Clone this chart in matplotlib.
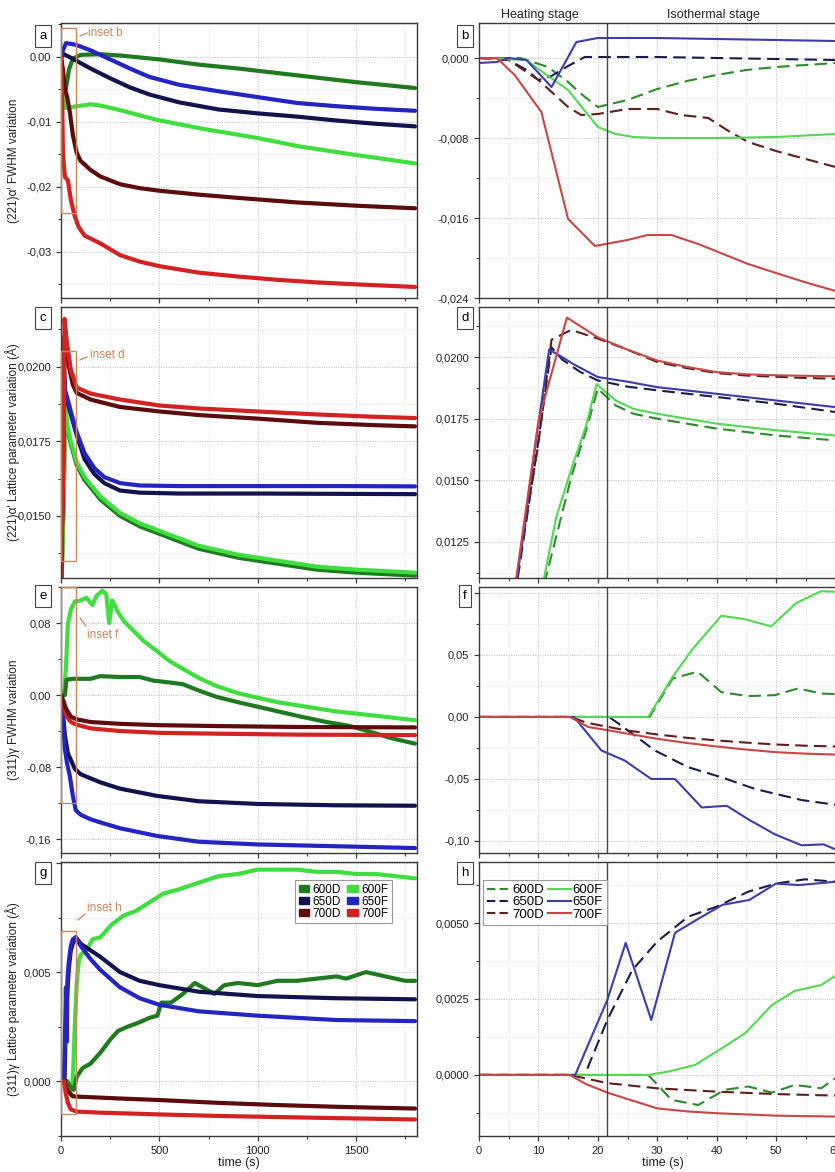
import matplotlib
matplotlib.use("Agg")
import matplotlib.pyplot as plt
from matplotlib.ticker import MultipleLocator, FuncFormatter
from matplotlib.patches import Rectangle, Patch
from matplotlib.lines import Line2D

plt.rcParams['font.family'] = ['Liberation Sans', 'DejaVu Sans']

# ---------------- data: left column (full 1800 s runs) ----------------
# panel a : (221)alpha' FWHM variation
A_T_600D = [0, 10, 25, 40, 60, 100, 200, 300, 500, 700, 900, 1100, 1300, 1500, 1800]
A_V_600D = [0.0, -0.004, -0.005, -0.002, -0.0003, 0.0003, 0.0004, 0.0002, -0.0004, -0.0012, -0.0018, -0.0025, -0.0032, -0.0039, -0.0048]
A_T_600F = [0, 10, 20, 40, 80, 150, 200, 300, 400, 487, 707, 1000, 1216, 1500, 1800]
A_V_600F = [-0.003, -0.006, -0.0079, -0.0078, -0.0076, -0.0073, -0.0075, -0.0082, -0.0090, -0.0097, -0.0110, -0.0125, -0.0138, -0.0151, -0.0164]
A_T_650D = [0, 15, 60, 150, 250, 350, 450, 600, 800, 1000, 1200, 1400, 1600, 1800]
A_V_650D = [0.0, 0.0004, -0.0003, -0.0018, -0.0033, -0.0047, -0.0058, -0.0070, -0.0081, -0.0087, -0.0092, -0.0098, -0.0103, -0.0107]
A_T_650F = [0, 10, 25, 50, 80, 150, 250, 350, 450, 600, 800, 1000, 1200, 1400, 1600, 1800]
A_V_650F = [0.0, 0.001, 0.0021, 0.002, 0.0018, 0.0010, -0.0004, -0.0018, -0.0031, -0.0043, -0.0053, -0.0062, -0.0071, -0.0076, -0.0080, -0.0083]
A_T_700D = [0, 10, 20, 30, 45, 60, 80, 100, 150, 200, 300, 400, 500, 700, 900, 1200, 1500, 1800]
A_V_700D = [0.0, -0.002, -0.005, -0.006, -0.0085, -0.012, -0.0148, -0.0160, -0.0174, -0.0184, -0.0196, -0.0202, -0.0206, -0.0212, -0.0217, -0.0224, -0.0229, -0.0233]
A_T_700F = [0, 5, 10, 20, 35, 50, 70, 90, 120, 200, 300, 400, 500, 700, 900, 1100, 1300, 1500, 1800]
A_V_700F = [0.0, -0.005, -0.015, -0.0185, -0.019, -0.022, -0.0245, -0.0262, -0.0275, -0.0287, -0.0305, -0.0315, -0.0322, -0.0332, -0.0338, -0.0343, -0.0347, -0.0350, -0.0354]

# panel c : (221)alpha' lattice parameter variation
C_T_600D = [0, 15, 20, 30, 50, 80, 120, 200, 300, 400, 500, 700, 900, 1100, 1300, 1500, 1800]
C_V_600D = [0.0120, 0.0159, 0.0187, 0.0180, 0.0174, 0.0167, 0.0162, 0.01555, 0.0150, 0.01465, 0.0144, 0.0139, 0.0136, 0.0134, 0.0132, 0.0131, 0.0130]
C_T_600F = [0, 15, 20, 30, 50, 80, 120, 200, 300, 400, 500, 700, 900, 1100, 1300, 1500, 1800]
C_V_600F = [0.0120, 0.0160, 0.0189, 0.0181, 0.0175, 0.0168, 0.0163, 0.01565, 0.0151, 0.01475, 0.0145, 0.0140, 0.0137, 0.0135, 0.0133, 0.0132, 0.0131]
C_T_650D = [0, 8, 12, 20, 30, 50, 80, 120, 170, 220, 300, 400, 600, 1000, 1400, 1800]
C_V_650D = [0.0128, 0.0160, 0.0204, 0.0192, 0.0189, 0.0184, 0.0177, 0.0169, 0.0164, 0.0161, 0.01585, 0.01578, 0.01575, 0.01575, 0.01574, 0.01573]
C_T_650F = [0, 8, 12, 20, 30, 50, 80, 120, 170, 220, 300, 400, 600, 1000, 1400, 1800]
C_V_650F = [0.0128, 0.0160, 0.0202, 0.0192, 0.0190, 0.0185, 0.0178, 0.0171, 0.0166, 0.0163, 0.01610, 0.01602, 0.01600, 0.01600, 0.01600, 0.01599]
C_T_700D = [0, 14, 17, 25, 40, 60, 80, 150, 300, 500, 700, 1000, 1300, 1600, 1800]
C_V_700D = [0.0128, 0.0175, 0.0210, 0.0209, 0.0200, 0.0194, 0.01912, 0.01890, 0.01865, 0.01850, 0.01838, 0.01826, 0.01812, 0.01804, 0.01800]
C_T_700F = [0, 14, 18, 30, 50, 80, 150, 300, 500, 700, 1000, 1300, 1600, 1800]
C_V_700F = [0.0128, 0.0175, 0.0216, 0.0208, 0.0199, 0.0193, 0.0191, 0.0189, 0.0187, 0.01860, 0.01850, 0.01840, 0.01832, 0.01828]

# panel e : (311)gamma FWHM variation
E_T_600D = [0, 20, 28, 60, 150, 200, 300, 400, 470, 550, 620, 700, 790, 900, 1000, 1100, 1220, 1350, 1460, 1560, 1680, 1800]
E_V_600D = [0.0, 0.0, 0.017, 0.018, 0.018, 0.021, 0.020, 0.020, 0.016, 0.014, 0.012, 0.005, -0.002, -0.008, -0.013, -0.018, -0.024, -0.030, -0.034, -0.040, -0.048, -0.054]
E_T_600F = [0, 15, 25, 35, 50, 70, 100, 130, 160, 180, 210, 230, 245, 260, 290, 320, 370, 420, 487, 550, 620, 700, 790, 900, 1000, 1100, 1220, 1390, 1600, 1800]
E_V_600F = [0.0, 0.0, 0.03, 0.079, 0.095, 0.104, 0.105, 0.108, 0.100, 0.110, 0.116, 0.112, 0.080, 0.105, 0.092, 0.082, 0.071, 0.060, 0.049, 0.038, 0.029, 0.019, 0.010, 0.002, -0.003, -0.008, -0.012, -0.018, -0.023, -0.028]
E_T_650D = [0, 10, 20, 35, 50, 70, 100, 200, 300, 487, 700, 1000, 1400, 1800]
E_V_650D = [0.0, -0.02, -0.045, -0.065, -0.072, -0.082, -0.088, -0.097, -0.104, -0.112, -0.118, -0.121, -0.1225, -0.123]
E_T_650F = [0, 10, 20, 30, 45, 60, 75, 100, 150, 200, 300, 487, 700, 1000, 1400, 1800]
E_V_650F = [0.0, -0.03, -0.06, -0.075, -0.09, -0.112, -0.128, -0.133, -0.138, -0.1415, -0.148, -0.1565, -0.163, -0.166, -0.168, -0.170]
E_T_700D = [0, 10, 25, 50, 80, 150, 300, 500, 800, 1200, 1800]
E_V_700D = [0.0, -0.005, -0.015, -0.024, -0.027, -0.030, -0.032, -0.0335, -0.0345, -0.0355, -0.036]
E_T_700F = [0, 10, 25, 50, 80, 150, 300, 500, 800, 1200, 1800]
E_V_700F = [0.0, -0.008, -0.022, -0.030, -0.033, -0.037, -0.040, -0.042, -0.043, -0.044, -0.0445]

# panel g : (311)gamma lattice parameter variation
G_T_600D = [0, 30, 50, 65, 80, 110, 150, 200, 250, 290, 340, 400, 450, 490, 510, 560, 620, 680, 720, 780, 830, 900, 1000, 1100, 1200, 1300, 1400, 1450, 1550, 1650, 1750, 1800]
G_V_600D = [0.0, 0.0, -0.0003, -0.0004, 0.0002, 0.0006, 0.0008, 0.0013, 0.0019, 0.0023, 0.0025, 0.0027, 0.0029, 0.0030, 0.0036, 0.0036, 0.0040, 0.0045, 0.0043, 0.0040, 0.0044, 0.0045, 0.0044, 0.0046, 0.0046, 0.0047, 0.0048, 0.0047, 0.0050, 0.0048, 0.0046, 0.0046]
G_T_600F = [0, 30, 45, 55, 62, 70, 80, 90, 100, 130, 160, 200, 260, 320, 380, 450, 520, 600, 700, 800, 900, 1000, 1100, 1200, 1300, 1400, 1500, 1600, 1700, 1800]
G_V_600F = [0.0, 0.0, -0.0003, -0.0004, 0.0005, 0.0025, 0.0045, 0.0055, 0.0058, 0.0060, 0.0065, 0.0066, 0.0072, 0.0076, 0.0078, 0.0082, 0.0086, 0.0088, 0.0091, 0.0094, 0.0095, 0.0097, 0.0097, 0.0097, 0.0096, 0.0096, 0.0095, 0.0095, 0.0094, 0.0093]
G_T_650D = [0, 18, 22, 30, 40, 50, 60, 75, 100, 150, 200, 300, 400, 500, 700, 1000, 1400, 1800]
G_V_650D = [0.0, 0.0, 0.0018, 0.0038, 0.0052, 0.0060, 0.0063, 0.0066, 0.0063, 0.0060, 0.0057, 0.0050, 0.0046, 0.0044, 0.0041, 0.0039, 0.0038, 0.00375]
G_T_650F = [0, 15, 20, 25, 29, 33, 40, 50, 60, 75, 100, 150, 200, 300, 400, 500, 700, 1000, 1400, 1800]
G_V_650F = [0.0, 0.0, 0.0019, 0.0043, 0.0018, 0.0047, 0.0055, 0.0062, 0.0065, 0.0066, 0.0062, 0.0056, 0.0051, 0.0043, 0.0038, 0.0035, 0.0032, 0.0030, 0.0028, 0.00275]
G_T_700D = [0, 15, 30, 60, 100, 300, 500, 800, 1100, 1400, 1800]
G_V_700D = [0.0, 0.0, -0.0004, -0.0007, -0.00072, -0.0008, -0.00087, -0.0010, -0.0011, -0.00118, -0.00126]
G_T_700F = [0, 15, 25, 35, 50, 80, 200, 500, 800, 1100, 1400, 1800]
G_V_700F = [0.0, 0.0, -0.0006, -0.0010, -0.0013, -0.0014, -0.00145, -0.00153, -0.0016, -0.00165, -0.0017, -0.00176]

# ---------------- data: right column (insets, first 60 s) ----------------
# panel b
B_T_600D = [0, 7, 11.6, 15, 17, 20, 25, 30, 35, 40, 45, 50, 55, 60, 70]
B_V_600D = [0.0, 0.0, -0.0009, -0.0024, -0.0035, -0.0049, -0.0042, -0.0031, -0.0023, -0.0017, -0.0012, -0.0009, -0.0007, -0.0005, -0.0003]
B_T_600F = [0, 8, 10, 15, 20, 23, 26, 30, 40, 50, 60, 70]
B_V_600F = [0.0, -0.0002, -0.0011, -0.0032, -0.0069, -0.0076, -0.0079, -0.0080, -0.0080, -0.0079, -0.0076, -0.0075]
B_T_650D = [0, 5, 8, 10, 12.2, 15, 17.8, 20, 30, 40, 50, 60, 70]
B_V_650D = [0.0, -0.0002, -0.0012, -0.0022, -0.0018, -0.0008, 0.0001, 0.0001, 0.0001, 0.0, -0.0001, -0.0002, -0.0003]
B_T_650F = [0, 3, 5, 8, 12.2, 16.4, 20, 25, 30, 40, 50, 60, 70]
B_V_650F = [-0.0005, -0.0004, 0.0, -0.0002, -0.0029, 0.0016, 0.0020, 0.0020, 0.0020, 0.0019, 0.0018, 0.0017, 0.0016]
B_T_700D = [0, 5, 10, 15, 17.2, 20, 25, 30, 34, 38.6, 42, 45.3, 50, 55, 60, 70]
B_V_700D = [0.0, -0.0002, -0.0022, -0.0049, -0.0057, -0.0056, -0.0051, -0.0051, -0.0057, -0.0060, -0.0073, -0.0084, -0.0093, -0.0101, -0.0109, -0.0124]
B_T_700F = [0, 3, 6, 10.5, 15, 19.5, 25, 28.4, 32.4, 36.9, 45.3, 50, 54.8, 60, 70]
B_V_700F = [0.0, 0.0, -0.0017, -0.0054, -0.0161, -0.0188, -0.0182, -0.0177, -0.0177, -0.0186, -0.0206, -0.0215, -0.0224, -0.0233, -0.0250]

# panel d
D_T_600D = [10, 11.2, 15.6, 18, 20, 23, 26, 30, 40, 50, 60, 70]
D_V_600D = [0.0093, 0.0110, 0.0152, 0.0170, 0.01872, 0.01804, 0.0177, 0.0175, 0.0171, 0.01682, 0.01662, 0.0165]
D_T_600F = [10, 11, 13, 15.6, 18, 19.8, 23, 26, 30, 40, 50, 60, 70]
D_V_600F = [0.0095, 0.0111, 0.0135, 0.0155, 0.0172, 0.0189, 0.01824, 0.0179, 0.0177, 0.0173, 0.01703, 0.01682, 0.0167]
D_T_650D = [5, 6.5, 10, 12.2, 14, 17, 20, 25, 30, 40, 50, 60, 70]
D_V_650D = [0.0088, 0.0110, 0.0166, 0.0204, 0.0199, 0.0194, 0.01905, 0.0188, 0.01865, 0.01838, 0.01811, 0.01777, 0.0175]
D_T_650F = [5, 6.5, 10, 11.8, 13.3, 16, 20, 25, 30, 40, 50, 60, 70]
D_V_650F = [0.0090, 0.0112, 0.0173, 0.0203, 0.0201, 0.0197, 0.01919, 0.0190, 0.01878, 0.01851, 0.01824, 0.01797, 0.0177]
D_T_700D = [5, 6.3, 10, 12.2, 15.5, 20, 25, 30, 35, 40, 45, 50, 55, 60, 70]
D_V_700D = [0.0090, 0.0110, 0.0165, 0.0207, 0.0211, 0.02075, 0.0203, 0.0198, 0.01955, 0.01935, 0.01925, 0.01920, 0.01915, 0.01912, 0.0190]
D_T_700F = [5, 6.3, 10, 14.8, 20, 25, 30, 35, 40, 45, 50, 55, 60, 70]
D_V_700F = [0.0090, 0.01108, 0.0174, 0.0216, 0.0208, 0.0203, 0.01986, 0.01960, 0.01939, 0.01930, 0.01926, 0.01924, 0.01922, 0.0192]

# panel f
F_T_600D = [0, 28.7, 32.6, 36.8, 40.8, 45.3, 49.8, 53.7, 57.6, 60, 65]
F_V_600D = [0.0, 0.0, 0.031, 0.0365, 0.020, 0.0168, 0.0176, 0.023, 0.0189, 0.0184, 0.018]
F_T_600F = [0, 28.5, 32.6, 36, 40.8, 44.7, 49.2, 53.4, 57.6, 60, 65]
F_V_600F = [0.0, 0.0, 0.0324, 0.055, 0.0816, 0.0789, 0.073, 0.0919, 0.1014, 0.101, 0.102]
F_T_650D = [0, 21.9, 24.3, 29.6, 35.2, 40.8, 46.5, 54.3, 60, 65]
F_V_650D = [0.0, 0.0, -0.0081, -0.027, -0.0405, -0.0486, -0.0581, -0.067, -0.0708, -0.073]
F_T_650F = [0, 16, 20.6, 24.5, 29, 33, 37.5, 41.7, 45.5, 49.8, 54.3, 58, 60, 65]
F_V_650F = [0.0, 0.0, -0.027, -0.0351, -0.050, -0.050, -0.073, -0.0716, -0.083, -0.0946, -0.1035, -0.1027, -0.1068, -0.112]
F_T_700D = [0, 15.5, 18, 21.8, 25, 30, 35, 40, 45, 50, 55, 60, 65]
F_V_700D = [0.0, 0.0, -0.0045, -0.0081, -0.0110, -0.0141, -0.0168, -0.0189, -0.0207, -0.0222, -0.0232, -0.0238, -0.024]
F_T_700F = [0, 15.3, 18.4, 21.8, 25, 30, 35, 40, 45, 50, 55, 60, 65]
F_V_700F = [0.0, 0.0, -0.0081, -0.0108, -0.0135, -0.0176, -0.0210, -0.0238, -0.0263, -0.0284, -0.0296, -0.0303, -0.031]

# panel h
H_T_600D = [0, 28.5, 32.4, 36.9, 41.4, 45.3, 49.3, 53.2, 57.6, 60, 65]
H_V_600D = [0.0, 0.0, -0.00082, -0.00099, -0.00049, -0.00038, -0.00058, -0.00033, -0.00044, -0.00011, 0.0]
H_T_600F = [0, 28.5, 31.9, 36.4, 40, 44.8, 49.3, 53.2, 57.6, 60, 65]
H_V_600F = [0.0, 0.0, 0.00011, 0.00033, 0.00077, 0.00137, 0.0023, 0.00277, 0.00296, 0.00326, 0.0036]
H_T_650D = [0, 17.8, 21.6, 25.8, 30, 35.2, 40, 45.3, 50, 54.9, 60, 65]
H_V_650D = [0.0, 0.0, 0.00181, 0.00345, 0.00439, 0.00521, 0.00554, 0.00603, 0.0063, 0.00644, 0.00636, 0.0063]
H_T_650F = [0, 16.2, 21.6, 24.7, 29, 33, 37, 41, 45.5, 50, 53.8, 60, 65]
H_V_650F = [0.0, 0.0, 0.00247, 0.00435, 0.00181, 0.00468, 0.00515, 0.0056, 0.00576, 0.0063, 0.00625, 0.00636, 0.0064]
H_T_700D = [0, 15.3, 21.6, 30, 40, 50, 60, 65]
H_V_700D = [0.0, 0.0, -0.00027, -0.00044, -0.00055, -0.00063, -0.00068, -0.0007]
H_T_700F = [0, 15.3, 18, 21.6, 25.1, 30, 35, 40, 50, 60, 65]
H_V_700F = [0.0, 0.0, -0.0003, -0.00058, -0.0008, -0.0011, -0.0012, -0.00126, -0.00134, -0.00137, -0.00138]

SERIES = ['600D', '650D', '700D', '600F', '650F', '700F']
LEFT_COLORS = {'600D': '#1f7a1f', '600F': '#3fde3f', '650D': '#12124f',
               '650F': '#2424c2', '700D': '#5c0c0c', '700F': '#d42222'}
RIGHT_COLORS = {'600D': '#2e8a2e', '600F': '#52d852', '650D': '#1c1c4c',
                '650F': '#3c3caa', '700D': '#5e1e1e', '700F': '#c84646'}
STAGE_BOUNDARY = 21.6
INSET_TMAX = 75

Y_LABELS = ["(221)\u03b1' FWHM variation",
            "(221)\u03b1' Lattice parameter variation (\u00c5)",
            "(311)\u03b3 FWHM variation",
            "(311)\u03b3 Lattice parameter variation (\u00c5)"]

# ---------------- layout ----------------
W, H = 835, 1172
fig = plt.figure(figsize=(W / 100, H / 100), dpi=100)


def fx(px):
    return px / W


def fy(py):
    return 1 - py / H


rows_px = [(23, 298), (307, 578), (587, 853), (862, 1136)]
LX0, LX1 = 61, 417
RX0 = 479
R_XMAX = 62
R_PX_PER_S = 5.94

left_specs = [
    dict(ylim=(-0.0371, 0.0052), major=0.01, dec=2, lmax=0.001,
         data={'600D': (A_T_600D, A_V_600D), '600F': (A_T_600F, A_V_600F),
               '650D': (A_T_650D, A_V_650D), '650F': (A_T_650F, A_V_650F),
               '700D': (A_T_700D, A_V_700D), '700F': (A_T_700F, A_V_700F)},
         order=['600D', '650D', '650F', '600F', '700D', '700F'],
         rect=(-0.024, 0.0045), inset='inset b', txt=(88, 33), lead=((80, 36), (87, 33))),
    dict(ylim=(0.01292, 0.0220), major=0.0025, dec=4, lmax=0.0201,
         data={'600D': (C_T_600D, C_V_600D), '600F': (C_T_600F, C_V_600F),
               '650D': (C_T_650D, C_V_650D), '650F': (C_T_650F, C_V_650F),
               '700D': (C_T_700D, C_V_700D), '700F': (C_T_700F, C_V_700F)},
         order=['600D', '600F', '650D', '650F', '700D', '700F'],
         rect=(0.01349, 0.02054), inset='inset d', txt=(90, 355), lead=((80, 360), (87, 357))),
    dict(ylim=(-0.1755, 0.120), major=0.08, dec=2, lmax=0.09,
         data={'600D': (E_T_600D, E_V_600D), '600F': (E_T_600F, E_V_600F),
               '650D': (E_T_650D, E_V_650D), '650F': (E_T_650F, E_V_650F),
               '700D': (E_T_700D, E_V_700D), '700F': (E_T_700F, E_V_700F)},
         order=['600F', '600D', '650D', '650F', '700F', '700D'],
         rect=(-0.120, 0.120), inset='inset f', txt=(87, 635), lead=((80, 618), (86, 626))),
    dict(ylim=(-0.00252, 0.01005), major=0.005, dec=3, lmax=0.006,
         data={'600D': (G_T_600D, G_V_600D), '600F': (G_T_600F, G_V_600F),
               '650D': (G_T_650D, G_V_650D), '650F': (G_T_650F, G_V_650F),
               '700D': (G_T_700D, G_V_700D), '700F': (G_T_700F, G_V_700F)},
         order=['600F', '600D', '650D', '650F', '700D', '700F'],
         rect=(-0.00151, 0.00688), inset='inset h', txt=(87, 908), lead=((78, 920), (85, 914))),
]

right_specs = [
    dict(ylim=(-0.024, 0.0035), major=0.008, dec=3, lmax=0.001,
         data={'600D': (B_T_600D, B_V_600D), '600F': (B_T_600F, B_V_600F),
               '650D': (B_T_650D, B_V_650D), '650F': (B_T_650F, B_V_650F),
               '700D': (B_T_700D, B_V_700D), '700F': (B_T_700F, B_V_700F)}),
    dict(ylim=(0.01104, 0.02203), major=0.0025, dec=4, lmax=0.0201,
         data={'600D': (D_T_600D, D_V_600D), '600F': (D_T_600F, D_V_600F),
               '650D': (D_T_650D, D_V_650D), '650F': (D_T_650F, D_V_650F),
               '700D': (D_T_700D, D_V_700D), '700F': (D_T_700F, D_V_700F)}),
    dict(ylim=(-0.1097, 0.1048), major=0.05, dec=2, lmax=0.06,
         data={'600D': (F_T_600D, F_V_600D), '600F': (F_T_600F, F_V_600F),
               '650D': (F_T_650D, F_V_650D), '650F': (F_T_650F, F_V_650F),
               '700D': (F_T_700D, F_V_700D), '700F': (F_T_700F, F_V_700F)}),
    dict(ylim=(-0.00201, 0.00701), major=0.0025, dec=4, lmax=0.0051,
         data={'600D': (H_T_600D, H_V_600D), '600F': (H_T_600F, H_V_600F),
               '650D': (H_T_650D, H_V_650D), '650F': (H_T_650F, H_V_650F),
               '700D': (H_T_700D, H_V_700D), '700F': (H_T_700F, H_V_700F)}),
]

letters_left = ['a', 'c', 'e', 'g']
letters_right = ['b', 'd', 'f', 'h']
letter_py = [36, 318, 596, 873]

INSET_COLOR = '#c8865e'
SPINE = '#3a3a3a'


def make_fmt(dec, lmax):
    def f(v, p):
        if v > lmax:
            return ''
        if abs(v) < 1e-12:
            v = 0.0
        return f"{v:.{dec}f}".replace('.', ',')
    return FuncFormatter(f)


def style_axes(ax, major, dec, lmax, show_x):
    ax.yaxis.set_major_locator(MultipleLocator(major))
    ax.yaxis.set_minor_locator(MultipleLocator(major / 2))
    ax.yaxis.set_major_formatter(make_fmt(dec, lmax))
    ax.tick_params(which='both', direction='out', colors=SPINE, labelcolor='#222222',
                   labelsize=8, top=False, right=False)
    ax.tick_params(which='major', length=3.5, width=0.9)
    ax.tick_params(which='minor', length=2, width=0.8)
    if not show_x:
        ax.tick_params(axis='x', labelbottom=False)
    ax.set_axisbelow(True)
    ax.grid(True, which='major', ls=(0, (1, 1.5)), color='#bdbdbd', lw=0.7)
    ax.grid(True, which='minor', ls='-', color='#f0f0f0', lw=0.6)
    for s in ax.spines.values():
        s.set_color(SPINE)
        s.set_linewidth(1.0)


for i, (spec, (top, bot)) in enumerate(zip(left_specs, rows_px)):
    ax = fig.add_axes([fx(LX0), fy(bot), fx(LX1 - LX0), (bot - top) / H])
    for key in spec['order']:
        t, v = spec['data'][key]
        ax.plot(t, v, color=LEFT_COLORS[key], lw=3.0, solid_capstyle='round')
    ax.set_xlim(0, 1810)
    ax.set_ylim(*spec['ylim'])
    ax.xaxis.set_major_locator(MultipleLocator(500))
    ax.xaxis.set_minor_locator(MultipleLocator(250))
    style_axes(ax, spec['major'], spec['dec'], spec['lmax'], i == 3)
    ax.set_ylabel(Y_LABELS[i], fontsize=8.5, color='#222222')
    ax.yaxis.set_label_coords(-0.115, 0.5)
    r0, r1 = spec['rect']
    ax.add_patch(Rectangle((0, r0), INSET_TMAX, r1 - r0, fill=False,
                           ec=INSET_COLOR, lw=1.0, zorder=5, clip_on=False))
    fig.text(fx(spec['txt'][0]), fy(spec['txt'][1]), spec['inset'], color=INSET_COLOR,
             fontsize=8.5, va='center', ha='left')
    (x0, y0), (x1, y1) = spec['lead']
    fig.add_artist(Line2D([fx(x0), fx(x1)], [fy(y0), fy(y1)], color=INSET_COLOR, lw=0.9))
    if i == 3:
        ax.set_xlabel('time (s)', fontsize=9, color='#222222', labelpad=1)
        handles = [Patch(facecolor=LEFT_COLORS[k], edgecolor=LEFT_COLORS[k]) for k in SERIES]
        leg = ax.legend(handles, SERIES, ncol=2, loc='upper left',
                        bbox_to_anchor=((295 - LX0) / (LX1 - LX0), 1 - (880 - top) / (bot - top)),
                        borderaxespad=0, fontsize=8.5, labelspacing=0.0,
                        handlelength=0.9, handleheight=0.55, handletextpad=0.3,
                        columnspacing=0.5, borderpad=0.3, fancybox=False,
                        framealpha=1, edgecolor='#999999')
        leg.get_frame().set_linewidth(0.8)
    fig.text(fx(43), fy(letter_py[i]), letters_left[i], fontsize=9.5, ha='center', va='center',
             bbox=dict(boxstyle='square,pad=0.35', fc='white', ec='#444444', lw=0.8))

for i, (spec, (top, bot)) in enumerate(zip(right_specs, rows_px)):
    ax = fig.add_axes([fx(RX0), fy(bot), fx(R_XMAX * R_PX_PER_S), (bot - top) / H])
    for key in SERIES:
        t, v = spec['data'][key]
        if key.endswith('D'):
            ax.plot(t, v, color=RIGHT_COLORS[key], lw=1.5, dashes=(6, 3))
        else:
            ax.plot(t, v, color=RIGHT_COLORS[key], lw=1.5)
    ax.axvline(STAGE_BOUNDARY, color='#444444', lw=1.0)
    ax.set_xlim(0, R_XMAX)
    ax.set_ylim(*spec['ylim'])
    ax.xaxis.set_major_locator(MultipleLocator(10))
    ax.xaxis.set_minor_locator(MultipleLocator(5))
    style_axes(ax, spec['major'], spec['dec'], spec['lmax'], i == 3)
    if i == 3:
        ax.set_xlabel('time (s)', fontsize=9, color='#222222', labelpad=1)
        handles = []
        for k in SERIES:
            if k.endswith('D'):
                handles.append(Line2D([], [], color=RIGHT_COLORS[k], lw=1.5, dashes=(4, 2)))
            else:
                handles.append(Line2D([], [], color=RIGHT_COLORS[k], lw=1.5))
        leg = ax.legend(handles, SERIES, ncol=2, loc='upper left',
                        bbox_to_anchor=((483 - RX0) / (R_XMAX * R_PX_PER_S), 1 - (880 - top) / (bot - top)),
                        borderaxespad=0, fontsize=9.5, labelspacing=0.0,
                        handlelength=1.8, handletextpad=0.1, columnspacing=0.3,
                        borderpad=0.3, fancybox=False, framealpha=1, edgecolor='#999999')
        leg.get_frame().set_linewidth(0.8)
    if i == 0:
        fig.text(fx(540), fy(15), 'Heating stage', fontsize=9, ha='center', va='center', color='#222222')
        fig.text(fx(713), fy(15), 'Isothermal stage', fontsize=9, ha='center', va='center', color='#222222')
    fig.text(fx(465), fy(letter_py[i]), letters_right[i], fontsize=9.5, ha='center', va='center',
             bbox=dict(boxstyle='square,pad=0.35', fc='white', ec='#444444', lw=0.8))

fig.savefig('out.png', dpi=100)
